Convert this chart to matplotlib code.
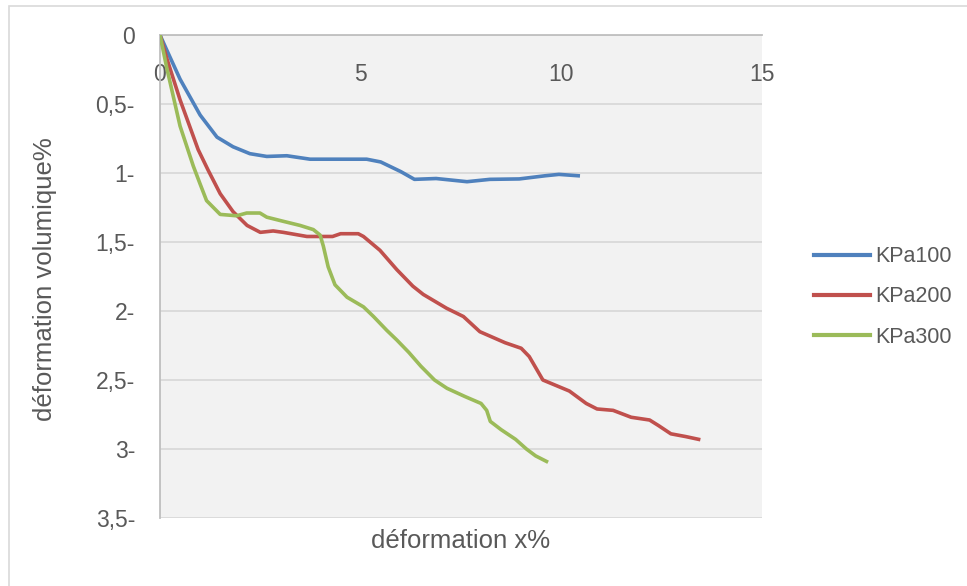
import numpy as np
import matplotlib
matplotlib.use('Agg')
import matplotlib.pyplot as plt
from matplotlib.patches import Rectangle

plt.rcParams['font.family'] = ['Liberation Sans', 'DejaVu Sans']

# courbes (déformation x %, déformation volumique %)
x100 = [0, 0.17, 0.5, 1.0, 1.42, 1.82, 2.24, 2.66, 3.16, 3.74, 4.3, 5.15, 5.5, 6.0, 6.34, 6.88,
        7.65, 8.22, 8.95, 9.6, 9.94, 10.42]
y100 = [0, 0.11, 0.32, 0.58, 0.74, 0.81, 0.86, 0.88, 0.875, 0.9, 0.9, 0.9, 0.92, 0.99, 1.046, 1.04,
        1.063, 1.046, 1.043, 1.02, 1.01, 1.02]

x200 = [0, 0.17, 0.5, 0.95, 1.2, 1.5, 1.82, 2.17, 2.5, 2.82, 3.07, 3.66, 4.3, 4.5, 4.94, 5.07,
        5.48, 5.9, 6.3, 6.56, 7.14, 7.56, 7.97, 8.6, 9.0, 9.2, 9.54, 10.2, 10.62, 10.89,
        11.29, 11.74, 12.2, 12.42, 12.73, 13.1, 13.42]
y200 = [0, 0.17, 0.47, 0.83, 0.98, 1.15, 1.28, 1.38, 1.43, 1.42, 1.43, 1.46, 1.46, 1.44, 1.44, 1.46,
        1.56, 1.7, 1.82, 1.88, 1.98, 2.04, 2.15, 2.23, 2.27, 2.33, 2.5, 2.58, 2.67, 2.71,
        2.72, 2.77, 2.79, 2.83, 2.89, 2.91, 2.93]

x300 = [0, 0.17, 0.5, 0.83, 1.0, 1.16, 1.5, 1.91, 2.16, 2.49, 2.66, 3.07, 3.49, 3.82, 3.99, 4.07,
        4.19, 4.36, 4.66, 5.07, 5.32, 5.65, 5.9, 6.2, 6.5, 6.84, 7.15, 7.6, 8.0, 8.14, 8.23,
        8.5, 8.86, 9.13, 9.36, 9.63]
y300 = [0, 0.24, 0.66, 0.95, 1.08, 1.2, 1.3, 1.31, 1.29, 1.29, 1.32, 1.35, 1.38, 1.41, 1.45, 1.53,
        1.68, 1.81, 1.9, 1.97, 2.04, 2.14, 2.21, 2.3, 2.4, 2.5, 2.56, 2.62, 2.67, 2.72, 2.8,
        2.86, 2.93, 3.0, 3.05, 3.09]

series = ['KPa100', 'KPa200', 'KPa300']
colors = ['#4f81bd', '#c0504d', '#9bbb59']
xticks = [0, 5, 10, 15]
yticks = [0, 0.5, 1, 1.5, 2, 2.5, 3, 3.5]
ylabels = ['0', '0,5-', '1-', '1,5-', '2-', '2,5-', '3-', '3,5-']

W, H = 967, 586
fig = plt.figure(figsize=(W / 100, H / 100), dpi=100)
ax = fig.add_axes([160 / W, 1 - 518 / H, (762 - 160) / W, (518 - 35) / H])
ax.set_facecolor('#f2f2f2')

# cadre extérieur du graphique
fig.patches.append(Rectangle((9 / W, -0.2), 1.2, 0.2 + 1 - 6 / H, transform=fig.transFigure,
                             fill=False, edgecolor='#d9d9d9', lw=1.2))

for yt in yticks:
    ax.axhline(yt, color='#d9d9d9', lw=1.3, zorder=1)

for xs, ys, c, lab in zip([x100, x200, x300], [y100, y200, y300], colors, series):
    ax.plot(xs, ys, color=c, lw=2.6, label=lab, zorder=3, solid_joinstyle='round')

ax.set_xlim(0, 15)
ax.set_ylim(3.5, 0)
ax.set_xticks(xticks)
ax.set_xticklabels([str(t) for t in xticks])
ax.set_yticks(yticks)
ax.set_yticklabels(ylabels)
ax.xaxis.tick_top()
ax.tick_params(axis='x', length=0, pad=-37, labelsize=16.5, labelcolor='#595959')
ax.tick_params(axis='y', length=0, pad=18, labelsize=16.5, labelcolor='#595959')

for s in ['right', 'bottom']:
    ax.spines[s].set_visible(False)
for s in ['left', 'top']:
    ax.spines[s].set_color('#bfbfbf')
    ax.spines[s].set_linewidth(1.3)

fig.text(461 / W, 1 - 541 / H, 'déformation x%', ha='center', va='center',
         fontsize=18.5, color='#595959')
fig.text(45 / W, 1 - 279 / H, 'déformation volumique%', ha='center', va='center',
         rotation=90, fontsize=18.5, color='#595959')

leg = fig.legend(loc='center left', bbox_to_anchor=(814 / W, 1 - 297 / H), frameon=False,
                 fontsize=15.5, handlelength=2.6, handletextpad=0.25, labelspacing=0.9,
                 borderpad=0, borderaxespad=0)
for t in leg.get_texts():
    t.set_color('#595959')
for l in leg.get_lines():
    l.set_linewidth(3)

fig.savefig('out.png', dpi=100)
